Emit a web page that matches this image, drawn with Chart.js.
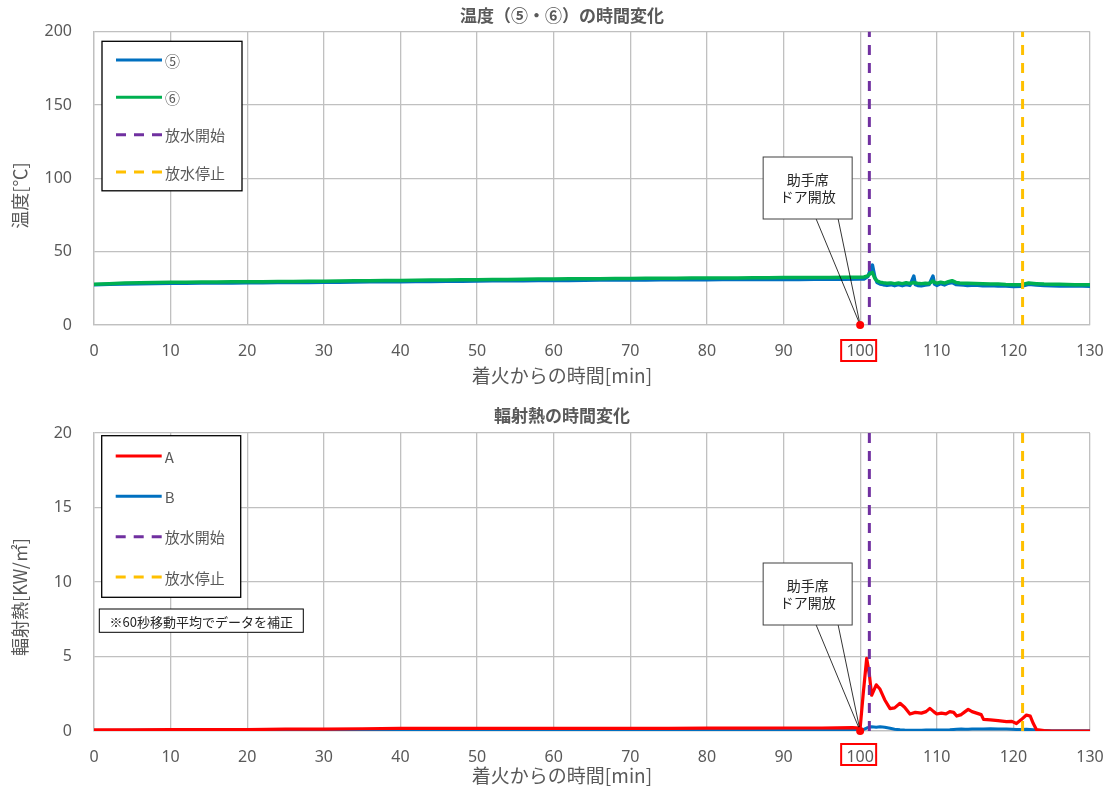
<!DOCTYPE html>
<html><head><meta charset="utf-8">
<script src="https://cdn.jsdelivr.net/npm/chart.js@4.4.1/dist/chart.umd.min.js"></script>
<style>html,body{margin:0;padding:0;background:#fff}canvas{display:block}</style>
</head><body>
<canvas id="c1" width="1108" height="395"></canvas>
<canvas id="c2" width="1108" height="394"></canvas>
<script>
// ---------- data ----------
const xTickStep = 10;
const tempTicksMax = 200, tempTickStep = 50;
const heatTicksMax = 20, heatTickStep = 5;
const waterStart = 101.2;
const waterStop = 121.2;
const doorOpen = 100;

const tempLabels = ['⑤', '⑥', '放水開始', '放水停止'];
const heatLabels = ['A', 'B', '放水開始', '放水停止'];

const tempTime = [0,2,4,6,8,10,12,14,16,18,20,22,24,26,28,30,32,34,36,38,40,42,44,46,48,50,
  52,54,56,58,60,62,64,66,68,70,72,74,76,78,80,82,84,86,88,90,92,94,96,98,100,
  100.5,101,101.3,101.6,101.9,102.2,102.6,103,103.5,104,
  104.5,105,105.5,106,106.5,107,107.2,107.5,108,108.5,
  109,109.5,109.7,110,110.5,111,111.5,112,112.5,113,
  113.5,114,115,116,117,118,119,120,121,122,
  123,124,125,126,127,128,129,130];
const temp5 = [27.5,27.8,28.0,28.1,28.3,28.4,28.5,28.6,28.6,28.7,28.8,28.8,28.9,28.9,29.0,29.1,29.2,29.3,29.4,29.4,
  29.5,29.6,29.7,29.8,29.9,30.0,30.1,30.2,30.2,30.3,30.4,30.4,30.5,30.6,30.6,30.7,30.7,30.8,30.8,30.9,
  30.9,31.0,31.0,31.0,31.1,31.1,31.1,31.2,31.2,31.2,31.3,
  31.3,33,37,40.8,33,29,28,27.5,27,27.5,
  26.8,27.5,26.8,27.6,27,33.3,27.5,27,26.8,27.2,
  27.6,33.3,28,27,28.2,27.3,28.5,29,27.6,27.5,
  27.2,27,27.2,26.8,27,26.5,26.6,26.3,26.4,27.8,
  27.2,27,26.8,26.6,26.7,26.5,26.6,26.4];
const temp6 = [27.8,28.2,28.6,28.8,29.0,29.1,29.2,29.3,29.3,29.4,29.5,29.5,29.6,29.7,29.8,29.9,30.0,30.1,30.2,30.3,
  30.4,30.5,30.6,30.7,30.8,30.9,31.0,31.1,31.2,31.3,31.4,31.5,31.5,31.6,31.7,31.7,31.8,31.9,31.9,32.0,
  32.0,32.1,32.1,32.2,32.2,32.3,32.3,32.4,32.4,32.5,32.6,
  32.7,33.5,35,35.8,32,30,29.2,28.8,28.5,28.7,
  28.2,28.6,28.2,28.8,28.3,29,28.6,28.4,28.2,28.5,
  28.3,30,29,28.5,29.2,28.6,29.5,30.2,29,28.7,
  28.5,28.4,28.3,28.1,28,27.9,27.6,27.5,27.4,28.6,
  28.2,27.9,27.8,27.7,27.6,27.5,27.5,27.4];

const heatTime = [0,5,10,15,20,25,30,35,40,45,50,55,60,65,70,75,80,85,90,95,
  99,100,100.4,100.85,101.2,101.5,102.1,102.6,103.2,103.9,
  104.5,105.2,105.8,106.5,107.2,108,108.6,109.1,109.6,110,
  110.6,111.2,111.7,112.2,112.6,113.2,113.7,114.1,114.6,115.2,
  115.8,116.1,117,118,119.1,119.8,120.4,121,121.7,122.2,
  122.6,123,124,125,126,128,130];
const heatA = [0.08,0.08,0.09,0.1,0.1,0.12,0.13,0.15,0.17,0.18,0.18,0.18,0.18,0.18,0.18,0.18,0.19,0.19,0.2,0.2,
  0.22,0.2,2.5,4.88,3.8,2.4,3.1,2.8,2.1,1.5,
  1.55,1.86,1.6,1.14,1.25,1.2,1.3,1.52,1.3,1.14,
  1.2,1.15,1.3,1.25,1.0,1.1,1.3,1.45,1.3,1.2,
  1.1,0.78,0.75,0.7,0.63,0.65,0.5,0.75,1.07,1.0,
  0.5,0.1,0.02,0,0,0,0];
const heatB = [0.04,0.05,0.05,0.05,0.06,0.06,0.06,0.07,0.07,0.07,0.06,0.06,0.06,0.05,0.05,0.05,0.05,0.05,0.05,0.05,
  0.05,0.05,0.1,0.2,0.25,0.28,0.25,0.28,0.25,0.18,
  0.12,0.08,0.06,0.05,0.05,0.05,0.06,0.06,0.06,0.06,
  0.06,0.07,0.08,0.1,0.12,0.13,0.12,0.12,0.13,0.14,
  0.14,0.14,0.15,0.14,0.13,0.12,0.1,0.1,0.12,0.1,
  0.08,0.05,0.03,0.02,0.02,0.02,0.02];

// ---------- helpers ----------
const CJK = '"Noto Sans CJK JP", "Noto Sans", sans-serif';
const NUM = '"Noto Sans", "DejaVu Sans", sans-serif';
const GRID = '#c0c0c0';
const TXT = '#595959';
const pts = (xs, ys) => xs.map((x, i) => ({x, y: ys[i]}));
const vline = (x, ymax) => [{x, y: 0}, {x, y: ymax}];

const decor = {
  id: 'decor',
  afterDraw(chart, args, o) {
    const ctx = chart.ctx, ca = chart.chartArea;
    const xs = chart.scales.x, ys = chart.scales.y;
    ctx.save();
    // chart title
    ctx.fillStyle = TXT;
    ctx.textAlign = 'center';
    ctx.textBaseline = 'middle';
    ctx.font = 'bold 17px ' + CJK;
    ctx.fillText(o.title, o.centerX, o.titleY);
    // x title
    ctx.font = '19px ' + CJK;
    ctx.fillText(o.xTitle, o.centerX, ca.bottom + o.xTitleDy);
    // y title
    ctx.save();
    ctx.translate(o.yTitleX, ca.top + o.yTitleDy);
    ctx.rotate(-Math.PI / 2);
    ctx.font = '18px ' + CJK;
    ctx.fillText(o.yTitle, 0, 0);
    ctx.restore();

    // legend
    const L = o.legend;
    const lx = ca.left + L.dx, ly = ca.top + L.dy;
    ctx.fillStyle = '#fff';
    ctx.fillRect(lx, ly, L.w, L.h);
    ctx.strokeStyle = '#000';
    ctx.lineWidth = 1.3;
    ctx.strokeRect(lx, ly, L.w, L.h);
    const items = chart.data.datasets.filter(d => d.label);
    items.forEach((d, i) => {
      const ry = ly + L.h * 0.125 + i * L.h * 0.25;
      ctx.beginPath();
      ctx.setLineDash(d.borderDash || []);
      ctx.strokeStyle = d.borderColor;
      ctx.lineWidth = 3;
      ctx.moveTo(lx + 14, ry);
      ctx.lineTo(lx + 60, ry);
      ctx.stroke();
      ctx.setLineDash([]);
      ctx.fillStyle = TXT;
      ctx.textAlign = 'left';
      ctx.textBaseline = 'middle';
      ctx.font = '15px ' + CJK;
      ctx.fillText(d.label, lx + 63, ry + 1);
    });

    // note
    if (o.note) {
      const nx = ca.left + o.note.dx, ny = ca.top + o.note.dy;
      ctx.fillStyle = '#fff';
      ctx.fillRect(nx, ny, o.note.w, o.note.h);
      ctx.strokeStyle = '#000';
      ctx.lineWidth = 1;
      ctx.strokeRect(nx, ny, o.note.w, o.note.h);
      ctx.fillStyle = '#262626';
      ctx.textAlign = 'center';
      ctx.font = '13px ' + CJK;
      ctx.fillText(o.note.text, nx + o.note.w / 2, ny + o.note.h / 2 + 1);
    }

    // callout
    const ax = xs.getPixelForValue(doorOpen), ay = ys.getPixelForValue(0);
    const C = o.callout;
    const bx = ax - 97, by = ay - 168, bw = 89, bh = 62;
    ctx.strokeStyle = '#000';
    ctx.lineWidth = 0.8;
    ctx.beginPath();
    ctx.moveTo(bx + 53, by + bh); ctx.lineTo(ax, ay);
    ctx.moveTo(bx + 75, by + bh); ctx.lineTo(ax, ay);
    ctx.stroke();
    ctx.fillStyle = '#fff';
    ctx.fillRect(bx, by, bw, bh);
    ctx.strokeStyle = '#404040';
    ctx.lineWidth = 1;
    ctx.strokeRect(bx, by, bw, bh);
    ctx.fillStyle = '#262626';
    ctx.textAlign = 'center';
    ctx.font = '14px ' + CJK;
    ctx.fillText(C.lines[0], bx + bw / 2, by + 23);
    ctx.fillText(C.lines[1], bx + bw / 2, by + 39.5);
    // dot
    ctx.fillStyle = '#ff0000';
    ctx.beginPath();
    ctx.arc(ax, ay, 4, 0, Math.PI * 2);
    ctx.fill();
    // red rectangle around tick label
    ctx.strokeStyle = '#ff0000';
    ctx.lineWidth = 2;
    ctx.strokeRect(ax - 19, ca.bottom + o.rectDy, 35, 21);
    ctx.restore();
  }
};

function makeOptions(ymax, ystep, xHeight, padTop, decorOpts) {
  return {
    responsive: false,
    animation: false,
    events: [],
    layout: {padding: {top: padTop, right: 18, left: 0, bottom: 0}},
    plugins: {legend: {display: false}, tooltip: {enabled: false}, title: {display: false}, decor: decorOpts},
    elements: {point: {radius: 0}, line: {tension: 0, borderJoinStyle: 'round', borderCapStyle: 'round'}},
    scales: {
      x: {
        type: 'linear', min: 0, max: 130,
        afterFit(s) { s.height = xHeight; s.paddingRight = 0; },
        ticks: {stepSize: xTickStep, color: TXT, font: {family: NUM, size: 16}, padding: 17, maxRotation: 0, autoSkip: false},
        grid: {color: GRID, lineWidth: 1.3, drawTicks: false},
        border: {color: GRID, width: 1.3}
      },
      y: {
        min: 0, max: ymax,
        afterFit(s) { s.width = 94; },
        ticks: {stepSize: ystep, color: TXT, font: {family: NUM, size: 16}, padding: 22},
        grid: {color: GRID, lineWidth: 1.3, drawTicks: false},
        border: {color: GRID, width: 1.3}
      }
    }
  };
}

const dash = {borderWidth: 3, borderDash: [10, 8], borderCapStyle: 'butt', order: 0};

new Chart(document.getElementById('c1'), {
  type: 'line',
  data: {
    datasets: [
      {label: tempLabels[0], data: pts(tempTime, temp5), borderColor: '#0070C0', borderWidth: 3.5, order: 2},
      {label: tempLabels[1], data: pts(tempTime, temp6), borderColor: '#00B050', borderWidth: 3.5, order: 1},
      Object.assign({label: tempLabels[2], data: vline(waterStart, tempTicksMax), borderColor: '#7030A0'}, dash),
      Object.assign({label: tempLabels[3], data: vline(waterStop, tempTicksMax), borderColor: '#FFC000'}, dash)
    ]
  },
  options: makeOptions(tempTicksMax, tempTickStep, 70, 31, {
    title: '温度（⑤・⑥）の時間変化', centerX: 562, titleY: 16,
    xTitle: '着火からの時間[min]', xTitleDy: 51,
    yTitle: '温度[℃]', yTitleX: 20, yTitleDy: 164,
    legend: {dx: 8, dy: 9.7, w: 140, h: 149.5},
    callout: {lines: ['助手席', 'ドア開放']},
    rectDy: 15
  }),
  plugins: [decor]
});

new Chart(document.getElementById('c2'), {
  type: 'line',
  data: {
    datasets: [
      {label: heatLabels[0], data: pts(heatTime, heatA), borderColor: '#FF0000', borderWidth: 3.2, order: 1},
      {label: heatLabels[1], data: pts(heatTime, heatB), borderColor: '#0070C0', borderWidth: 3, order: 2},
      Object.assign({label: heatLabels[2], data: vline(waterStart, heatTicksMax), borderColor: '#7030A0'}, dash),
      Object.assign({label: heatLabels[3], data: vline(waterStop, heatTicksMax), borderColor: '#FFC000'}, dash)
    ]
  },
  options: makeOptions(heatTicksMax, heatTickStep, 58, 38, {
    title: '輻射熱の時間変化', centerX: 562, titleY: 21,
    xTitle: '着火からの時間[min]', xTitleDy: 45,
    yTitle: '輻射熱[KW/㎡]', yTitleX: 20, yTitleDy: 164,
    legend: {dx: 7.7, dy: 2.7, w: 139, h: 161.6},
    note: {text: '※60秒移動平均でデータを補正', dx: 5.3, dy: 176, w: 204, h: 23.3},
    callout: {lines: ['助手席', 'ドア開放']},
    rectDy: 13
  }),
  plugins: [decor]
});
</script>
</body></html>
